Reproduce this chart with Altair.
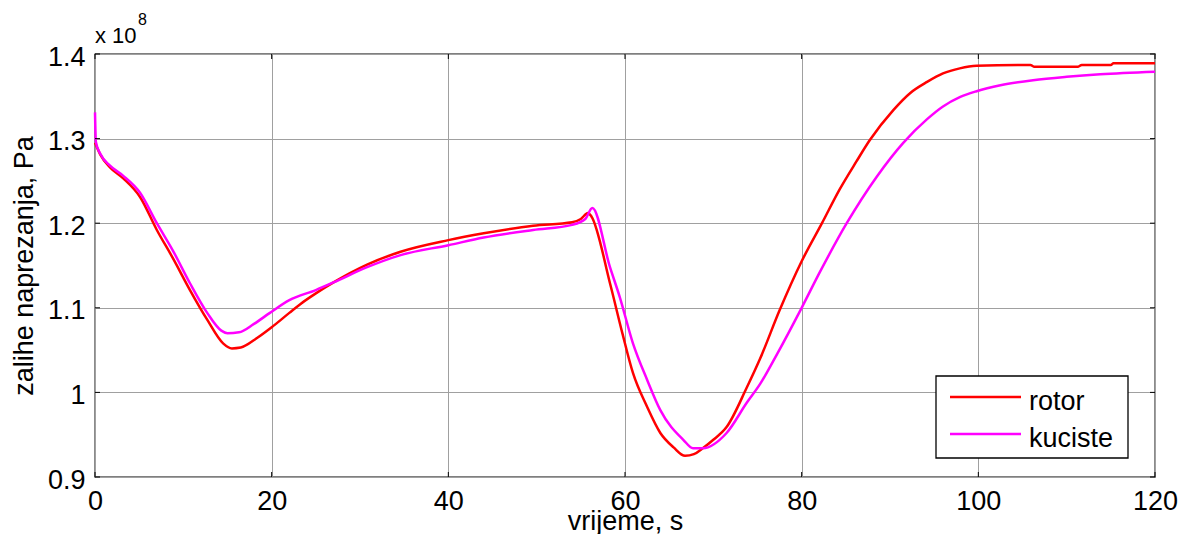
import altair as alt
import pandas as pd

# time axis, s
t_rotor = [0, 0.6, 1.7, 3.2, 5.1, 7.0, 8.8, 10.75, 12.7, 14.5, 15.5, 16.5, 18.3, 20, 22, 23.2, 25, 27,
           30.8, 34.5, 40, 44, 49.6, 54, 55, 55.8, 56.2, 58.3, 59.7, 60.9, 62.5, 64, 65.5, 66.8, 67.8,
           68.8, 70, 71.5, 73.8, 75.3, 77.5, 80, 82.3, 84.3, 86.2, 87.7, 90.4, 92.3, 94.2, 96, 97.9,
           99.8, 105.9, 106.3, 111.3, 111.7, 115, 115.3, 120]
# stress reserve, x 1e8 Pa
v_rotor = [1.295, 1.281, 1.266, 1.253, 1.231, 1.192, 1.159, 1.121, 1.086, 1.058, 1.052, 1.053, 1.064,
           1.077, 1.094, 1.104, 1.117, 1.130, 1.151, 1.166, 1.180, 1.188, 1.197, 1.201, 1.205, 1.212,
           1.208, 1.129, 1.070, 1.023, 0.983, 0.952, 0.935, 0.925, 0.927, 0.934, 0.944, 0.959, 1.006,
           1.040, 1.097, 1.155, 1.200, 1.240, 1.273, 1.298, 1.334, 1.354, 1.367, 1.377, 1.383, 1.386,
           1.387, 1.385, 1.385, 1.387, 1.387, 1.389, 1.389]

t_kuciste = [0, 0.1, 0.6, 1.7, 3.2, 5.1, 7.0, 8.8, 10.75, 12.7, 14.3, 15, 16.3, 18, 19.8, 22, 25, 27,
             30.8, 34.5, 40, 44, 49.6, 54, 55.5, 56.3, 58.3, 59.4, 60.9, 62.5, 64, 66.6, 67.7, 68.8,
             71.5, 73.8, 75.3, 77.2, 80, 82.1, 85.1, 88.5, 91.5, 94.2, 96, 97.9, 99.8, 102.5, 106.2,
             110, 113.8, 120]
v_kuciste = [1.331, 1.296, 1.282, 1.268, 1.256, 1.236, 1.200, 1.168, 1.129, 1.094, 1.073, 1.070, 1.071,
             1.081, 1.094, 1.109, 1.121, 1.130, 1.148, 1.162, 1.174, 1.183, 1.192, 1.198, 1.205, 1.218,
             1.148, 1.113, 1.058, 1.015, 0.979, 0.944, 0.934, 0.934, 0.952, 0.988, 1.010, 1.045, 1.100,
             1.143, 1.200, 1.255, 1.295, 1.323, 1.338, 1.349, 1.356, 1.363, 1.369, 1.373, 1.376, 1.379]

series_names = ["rotor", "kuciste"]
series_colors = ["#ff0000", "#ff00ff"]
x_ticks = [0, 20, 40, 60, 80, 100, 120]
y_ticks = [0.9, 1.0, 1.1, 1.2, 1.3, 1.4]
x_title = "vrijeme, s"
y_title = "zalihe naprezanja, Pa"
exp_base = "x 10"
exp_power = "8"

W, H = 1060, 423
FONT = "Liberation Sans"
FS = 27

X = alt.X("t:Q", scale=alt.Scale(domain=[0, 120], nice=False),
          axis=alt.Axis(values=x_ticks, title=x_title, grid=True, ticks=False, domain=False,
                        labelPadding=11, labelFlush=False, labelOverlap=False,
                        titleBaseline="alphabetic", titleY=52, titleX=W / 2, titleAlign="center"))
Y = alt.Y("v:Q", scale=alt.Scale(domain=[0.9, 1.4], nice=False, zero=False),
          axis=alt.Axis(values=y_ticks, format="~g", title=y_title, grid=True, ticks=False, domain=False,
                        labelPadding=10, labelOffset=3, labelFlush=False, labelOverlap=False,
                        titleAngle=-90, titleBaseline="alphabetic", titleX=-63, titleY=H / 2,
                        titleAlign="center"))

df_r = pd.DataFrame({"t": t_rotor, "v": v_rotor})
df_k = pd.DataFrame({"t": t_kuciste, "v": v_kuciste})

line_r = alt.Chart(df_r).mark_line(color=series_colors[0], strokeWidth=2.5, interpolate="monotone").encode(x=X, y=Y)
line_k = alt.Chart(df_k).mark_line(color=series_colors[1], strokeWidth=2.5, interpolate="monotone").encode(x=X, y=Y)

xt = pd.DataFrame({"t": x_ticks})
yt = pd.DataFrame({"v": y_ticks})
tick_b = alt.Chart(xt).mark_rule(color="black", strokeWidth=1).encode(x=X, y=alt.value(H), y2=alt.value(H - 5))
tick_t = alt.Chart(xt).mark_rule(color="black", strokeWidth=1).encode(x=X, y=alt.value(0), y2=alt.value(5))
tick_l = alt.Chart(yt).mark_rule(color="black", strokeWidth=1).encode(y=Y, x=alt.value(0), x2=alt.value(5))
tick_r = alt.Chart(yt).mark_rule(color="black", strokeWidth=1).encode(y=Y, x=alt.value(W), x2=alt.value(W - 5))

exp1 = alt.Chart(pd.DataFrame({"s": [exp_base]})).mark_text(
    align="left", baseline="alphabetic", font=FONT, fontSize=22, color="black"
).encode(x=alt.value(0), y=alt.value(-11), text="s:N")
exp2 = alt.Chart(pd.DataFrame({"s": [exp_power]})).mark_text(
    align="left", baseline="alphabetic", font=FONT, fontSize=16, color="black"
).encode(x=alt.value(43), y=alt.value(-29), text="s:N")

leg_box = alt.Chart(pd.DataFrame({"a": [0]})).mark_rect(
    fill="white", stroke="black", strokeWidth=1.3
).encode(x=alt.value(841), x2=alt.value(1033), y=alt.value(322), y2=alt.value(404))

leg_layers = []
for i, (name, col) in enumerate(zip(series_names, series_colors)):
    yy = 343 + 37 * i
    leg_layers.append(alt.Chart(pd.DataFrame({"s": [name]})).mark_rule(color=col, strokeWidth=2.5).encode(
        x=alt.value(855), x2=alt.value(926), y=alt.value(yy)))
    leg_layers.append(alt.Chart(pd.DataFrame({"s": [name]})).mark_text(
        align="left", baseline="alphabetic", font=FONT, fontSize=FS, color="black"
    ).encode(x=alt.value(934), y=alt.value(yy + 13), text="s:N"))

chart = alt.layer(
    line_r, line_k, tick_b, tick_t, tick_l, tick_r, exp1, exp2, leg_box, *leg_layers
).properties(
    width=W, height=H,
    autosize=alt.AutoSizeParams(type="none"),
    padding={"left": 87, "top": 46, "right": 23, "bottom": 57},
    background="white",
).configure_view(
    stroke="black", strokeWidth=1.3, fill="white"
).configure_axis(
    labelFont=FONT, labelFontSize=FS, labelColor="black",
    titleFont=FONT, titleFontSize=FS, titleFontWeight="normal", titleColor="black",
    gridColor="#a0a0a0", gridWidth=1, gridOpacity=1,
)

chart.save("out.html", embed_options={"renderer": "svg", "actions": False})
